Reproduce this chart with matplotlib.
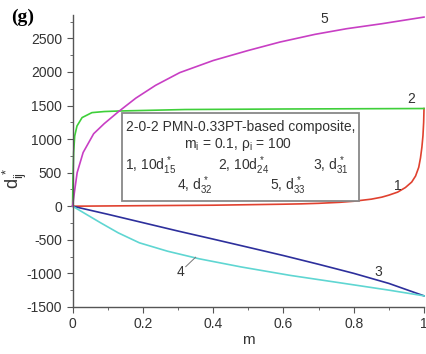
import matplotlib
matplotlib.use("Agg")
import matplotlib.pyplot as plt
from matplotlib.patches import Rectangle
from matplotlib.ticker import MultipleLocator, FuncFormatter

plt.rcParams["font.family"] = ["Liberation Sans", "DejaVu Sans"]
plt.rcParams["mathtext.fontset"] = "custom"
plt.rcParams["mathtext.rm"] = "Liberation Sans"
plt.rcParams["mathtext.it"] = "Liberation Sans:italic"
plt.rcParams["axes.unicode_minus"] = False

# curve data
m1 = [0, 0.2, 0.4, 0.6, 0.65, 0.7, 0.76, 0.8, 0.85, 0.88, 0.9, 0.925, 0.947,
      0.965, 0.976, 0.985, 0.99, 0.994, 0.997, 0.999, 1.0]
d15 = [0, 8, 15, 30, 35, 43, 58, 74, 105, 135, 165, 210, 278,
       360, 450, 580, 720, 880, 1050, 1250, 1455]

m2 = [0, 0.001, 0.003, 0.006, 0.0125, 0.027, 0.055, 0.09, 0.131, 0.32, 0.6, 1.0]
d24 = [0, 400, 800, 1046, 1195, 1320, 1394, 1410, 1418, 1440, 1448, 1455]

m3 = [0, 0.1, 0.2, 0.3, 0.4, 0.5, 0.6, 0.7, 0.8, 0.9, 1.0]
d31 = [0, -120, -245, -370, -490, -612, -735, -865, -1000, -1150, -1335]

m4 = [0, 0.04, 0.08, 0.13, 0.19, 0.27, 0.36, 0.48, 0.62, 0.76, 0.9, 1.0]
d32 = [0, -124, -248, -397, -545, -670, -783, -905, -1031, -1140, -1250, -1335]

m5 = [0, 0.005, 0.013, 0.03, 0.06, 0.09, 0.131, 0.18, 0.236, 0.305, 0.4, 0.5,
      0.59, 0.69, 0.78, 0.88, 1.0]
d33 = [0, 200, 500, 800, 1080, 1230, 1410, 1610, 1800, 1990, 2170, 2320,
       2445, 2560, 2644, 2718, 2817]

curves = [(m1, d15, "#e0412f"), (m2, d24, "#3fcf3a"), (m3, d31, "#2d2f9c"),
          (m4, d32, "#5fd6d2"), (m5, d33, "#c83fc4")]

fig = plt.figure(figsize=(4.27, 3.54), dpi=100)
ax = fig.add_axes([0.170, 0.133, 0.823, 0.825])
for x, y, c in curves:
    ax.plot(x, y, color=c, lw=1.2, clip_on=False, solid_joinstyle="round")

ax.set_xlim(0, 1)
ax.set_ylim(-1500, 2850)
ax.spines["top"].set_visible(False)
ax.spines["right"].set_visible(False)
for s in ("left", "bottom"):
    ax.spines[s].set_color("#555555")
    ax.spines[s].set_linewidth(1.0)
ax.xaxis.set_major_locator(MultipleLocator(0.2))
ax.xaxis.set_minor_locator(MultipleLocator(0.1))
ax.yaxis.set_major_locator(MultipleLocator(500))
ax.yaxis.set_minor_locator(MultipleLocator(250))
ax.xaxis.set_major_formatter(FuncFormatter(lambda v, p: f"{v:g}"))
ax.tick_params(which="both", direction="out", color="#555555", labelsize=10,
               labelcolor="#333333")
ax.tick_params(which="major", length=4)
ax.tick_params(which="minor", length=2)
ax.set_xlabel("m", fontsize=11, color="#333333", labelpad=1)
ax.set_ylabel(r"$\mathregular{d_{ij}^{\,*}}$", fontsize=13, color="#333333")
ax.yaxis.set_label_coords(-0.125, 0.44)

# curve numbers
for s, x, y in [("5", 0.716, 2783), ("2", 0.964, 1600), ("1", 0.926, 302),
                ("3", 0.870, -982), ("4", 0.308, -975)]:
    ax.text(x, y, s, fontsize=10, ha="center", va="center", color="#333333")
ax.plot([0.322, 0.350], [-900, -760], color="#777777", lw=0.7)

# annotation box
fig.patches.append(Rectangle((0.286, 0.432), 0.555, 0.249, transform=fig.transFigure,
                             fill=True, facecolor="white", edgecolor="#888888", lw=1.3))
fs = 10
fig.text(0.563, 0.641, "2-0-2 PMN-0.33PT-based composite,", fontsize=fs,
         ha="center", va="center", color="#333333")
fig.text(0.558, 0.592, r"$\mathregular{m_i}$ = 0.1, $\mathregular{ρ_i}$ = 100", fontsize=fs,
         ha="center", va="center", color="#333333")
fig.text(0.292, 0.532, r"1, 10$\mathregular{d_{15}^{\,*}}$", fontsize=fs, va="center", color="#333333")
fig.text(0.511, 0.532, r"2, 10$\mathregular{d_{24}^{\,*}}$", fontsize=fs, va="center", color="#333333")
fig.text(0.733, 0.532, r"3, $\mathregular{d_{31}^{\,*}}$", fontsize=fs, va="center", color="#333333")
fig.text(0.415, 0.475, r"4, $\mathregular{d_{32}^{\,*}}$", fontsize=fs, va="center", color="#333333")
fig.text(0.632, 0.475, r"5, $\mathregular{d_{33}^{\,*}}$", fontsize=fs, va="center", color="#333333")

fig.text(0.025, 0.975, "(g)", fontsize=14, fontweight="bold", family="Liberation Serif",
         va="top", ha="left")

fig.savefig("out.png", dpi=100)
